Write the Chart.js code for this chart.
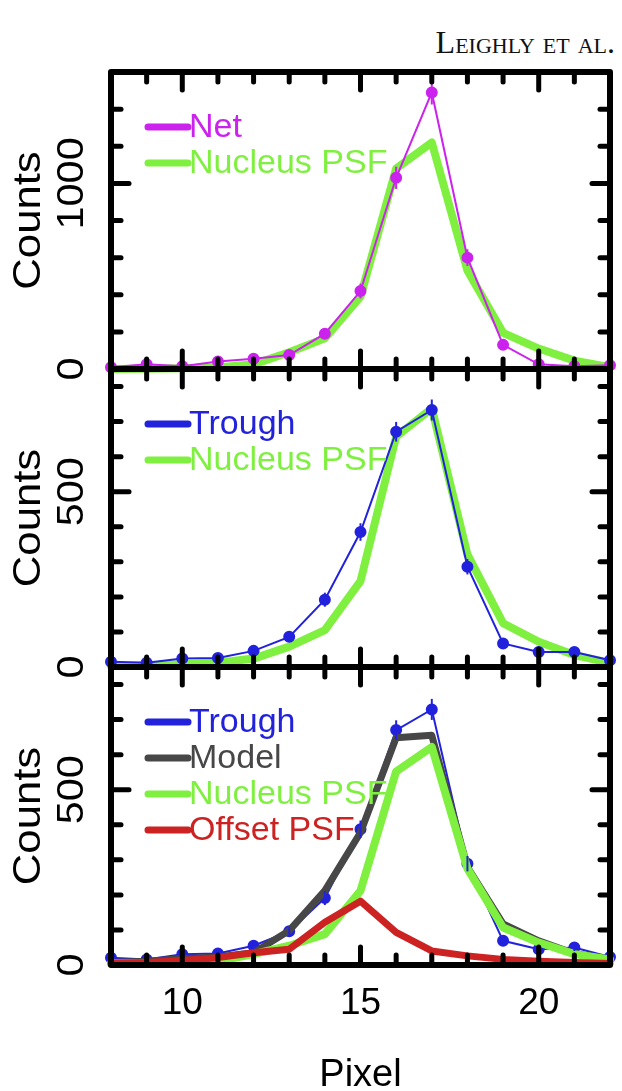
<!DOCTYPE html>
<html>
<head>
<meta charset="utf-8">
<title>Pixel profiles</title>
<script src="https://cdn.jsdelivr.net/npm/chart.js@4.4.0/dist/chart.umd.min.js"></script>
<style>
  body { margin: 0; background: #fff; }
  #wrap { position: relative; width: 622px; height: 1091px; }
  #wrap canvas { position: absolute; left: 0; top: 0; }
  #head {
    position: absolute; right: 7px; top: 24px;
    font-family: "Liberation Serif", "DejaVu Serif", serif;
    font-variant: small-caps; font-size: 32px; color: #111;
  }
</style>
</head>
<body>
<div id="wrap">
  <div id="head">Leighly et al.</div>
  <canvas id="panel1" width="622" height="1091"></canvas>
  <canvas id="panel2" width="622" height="1091"></canvas>
  <canvas id="panel3" width="622" height="1091"></canvas>
</div>
<script>
// Pixel positions along the slit
const pixels = [8, 9, 10, 11, 12, 13, 14, 15, 16, 17, 18, 19, 20, 21, 22];

// Top panel: net counts and nucleus PSF
const netCounts = [10, 25, 15, 40, 55, 75, 190, 420, 1030, 1490, 600, 130, 25, 15, 20];
const netErrors = [5, 8, 6, 10, 12, 15, 25, 40, 60, 65, 45, 20, 8, 6, 8];
const psfTop = [0, 2, 4, 8, 25, 90, 165, 390, 1080, 1220, 530, 195, 110, 45, 10];

// Middle panel: trough counts and nucleus PSF
const troughMid = [15, 12, 24, 26, 46, 86, 192, 385, 671, 733, 286, 67, 43, 43, 19];
const troughMidErr = [6, 6, 8, 8, 10, 14, 20, 25, 28, 30, 22, 12, 10, 10, 8];
const psfMid = [3, 5, 8, 12, 24, 58, 105, 245, 657, 738, 321, 125, 72, 34, 12];

// Bottom panel: trough, two-component model and its parts
const troughBot = [21, 16, 31, 33, 55, 96, 191, 387, 670, 729, 289, 69, 45, 50, 23];
const troughBotErr = [6, 6, 8, 8, 10, 14, 20, 25, 28, 30, 22, 12, 10, 10, 8];
const modelBot = [7, 11, 18, 23, 35, 98, 212, 378, 648, 655, 279, 117, 69, 33, 16];
const psfBot = [4, 4, 7, 11, 31, 55, 88, 212, 552, 622, 275, 107, 64, 31, 16];
const offsetBot = [4, 7, 13, 21, 35, 45, 122, 182, 93, 40, 26, 16, 11, 7, 4];

// Axis ticks
const xTickLabels = [10, 15, 20];
const yLabelsTop = [0, 1000];
const yLabelsLow = [0, 500];

const MAGENTA = '#cc22ee';
const BLUE = '#2222dd';
const GREEN = '#80f040';
const GRAY = '#474747';
const RED = '#cc2222';
const FONT = '"Liberation Sans", Arial, sans-serif';

function points(values) {
    return pixels.map((p, i) => ({ x: p, y: values[i] }));
}

function drawLine(ctx, x1, y1, x2, y2) {
    ctx.beginPath();
    ctx.moveTo(x1, y1);
    ctx.lineTo(x2, y2);
    ctx.stroke();
}

// vertical text, a little stretched along its length like the original
function rotatedText(ctx, text, x, y, font) {
    ctx.save();
    ctx.translate(x, y);
    ctx.rotate(-Math.PI / 2);
    ctx.scale(1.12, 1);
    ctx.font = font;
    ctx.fillText(text, 0, 0);
    ctx.restore();
}

// error bars, frame, inward ticks, labels and the legend
const decorations = {
    id: 'decorations',
    afterDatasetsDraw(chart, args, opts) {
        const { ctx, chartArea: a, scales: { x, y } } = chart;
        ctx.save();

        // error bars on the data points
        chart.data.datasets.forEach((ds, i) => {
            if (!ds.errorBars) return;
            ctx.strokeStyle = ds.borderColor;
            ctx.lineWidth = 2;
            ds.data.forEach((pt, j) => {
                const px = x.getPixelForValue(pt.x);
                drawLine(ctx, px, y.getPixelForValue(pt.y + ds.errorBars[j]),
                    px, y.getPixelForValue(pt.y - ds.errorBars[j]));
            });
        });

        // inward ticks
        ctx.strokeStyle = '#000';
        ctx.lineCap = 'round';
        ctx.lineWidth = 5;
        for (let v = 9; v <= 21; v++) {
            const px = x.getPixelForValue(v);
            const len = v % 5 === 0 ? 18 : 10;
            drawLine(ctx, px, a.top, px, a.top + len);
            drawLine(ctx, px, a.bottom, px, a.bottom - len);
        }
        for (let v = opts.minor; v < y.max; v += opts.minor) {
            const py = y.getPixelForValue(v);
            const len = v % opts.major === 0 ? 18 : 10;
            drawLine(ctx, a.left, py, a.left + len, py);
            drawLine(ctx, a.right, py, a.right - len, py);
        }

        // frame
        ctx.lineCap = 'butt';
        ctx.lineJoin = 'round';
        ctx.lineWidth = 6;
        ctx.strokeRect(a.left, a.top, a.right - a.left, a.bottom - a.top);

        // y tick labels and title, rotated
        ctx.fillStyle = '#000';
        ctx.textAlign = 'center';
        ctx.textBaseline = 'middle';
        opts.yLabels.forEach(v => rotatedText(ctx, String(v), 73, y.getPixelForValue(v), '37px ' + FONT));
        rotatedText(ctx, 'Counts', 29, (a.top + a.bottom) / 2, '39px ' + FONT);

        // x labels on the bottom panel only
        if (opts.xLabels) {
            ctx.font = '37px ' + FONT;
            ctx.textBaseline = 'top';
            xTickLabels.forEach(v => ctx.fillText(String(v), x.getPixelForValue(v), a.bottom + 20));
            ctx.textBaseline = 'alphabetic';
            ctx.font = '38px ' + FONT;
            ctx.fillText('Pixel', (a.left + a.right) / 2, 1086);
        }

        // legend
        ctx.font = '34px ' + FONT;
        ctx.textAlign = 'left';
        ctx.textBaseline = 'middle';
        ctx.lineCap = 'round';
        ctx.lineWidth = 7;
        opts.legend.forEach((idx, row) => {
            const ds = chart.data.datasets[idx];
            const ly = a.top + 55 + row * 36;
            ctx.strokeStyle = ds.borderColor;
            drawLine(ctx, 148, ly, 188, ly);
            ctx.fillStyle = ds.borderColor;
            ctx.fillText(ds.label, 189, ly + 1);
        });

        ctx.restore();
    }
};

function dataSeries(label, values, color, errors) {
    return {
        label: label,
        data: points(values),
        borderColor: color,
        backgroundColor: color,
        borderWidth: 2,
        pointRadius: 5,
        pointHoverRadius: 5,
        errorBars: errors,
        clip: false
    };
}

function modelSeries(label, values, color, width) {
    return {
        label: label,
        data: points(values),
        borderColor: color,
        backgroundColor: color,
        borderWidth: width,
        borderJoinStyle: 'round',
        borderCapStyle: 'round',
        pointRadius: 0,
        clip: false
    };
}

function createPanel(canvas, top, bottom, yMax, datasets, deco) {
    new Chart(canvas, {
        type: 'line',
        data: { datasets: datasets },
        options: {
            responsive: false,
            animation: false,
            events: [],
            layout: { padding: { left: 111, right: 12, top: top, bottom: 1091 - bottom } },
            scales: {
                x: { type: 'linear', min: 8, max: 22, display: false },
                y: { min: 0, max: yMax, display: false }
            },
            plugins: {
                legend: { display: false },
                tooltip: { enabled: false },
                decorations: deco
            }
        },
        plugins: [decorations]
    });
}

document.addEventListener('DOMContentLoaded', () => {
    // first dataset in each list is drawn on top
    createPanel(document.getElementById('panel1'), 72, 369, 1600, [
        dataSeries('Net', netCounts, MAGENTA, netErrors),
        modelSeries('Nucleus PSF', psfTop, GREEN, 8)
    ], { minor: 200, major: 1000, yLabels: yLabelsTop, legend: [0, 1], xLabels: false });

    createPanel(document.getElementById('panel2'), 369, 667, 850, [
        dataSeries('Trough', troughMid, BLUE, troughMidErr),
        modelSeries('Nucleus PSF', psfMid, GREEN, 8)
    ], { minor: 100, major: 500, yLabels: yLabelsLow, legend: [0, 1], xLabels: false });

    createPanel(document.getElementById('panel3'), 667, 965, 850, [
        modelSeries('Offset PSF', offsetBot, RED, 7),
        modelSeries('Nucleus PSF', psfBot, GREEN, 8),
        modelSeries('Model', modelBot, GRAY, 7),
        dataSeries('Trough', troughBot, BLUE, troughBotErr)
    ], { minor: 100, major: 500, yLabels: yLabelsLow, legend: [3, 2, 1, 0], xLabels: true });
});
</script>
</body>
</html>
